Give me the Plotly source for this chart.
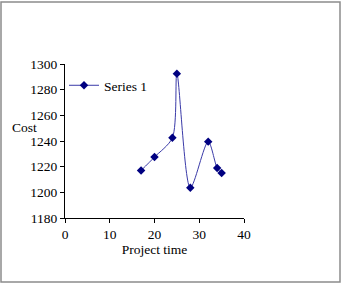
import plotly.graph_objects as go

project_time = [17, 20, 24, 25, 28, 32, 34, 35]
cost = [1217, 1227.5, 1242.5, 1292.5, 1203.5, 1239.5, 1219, 1215]
series_name = "Series 1"
x_ticks = [0, 10, 20, 30, 40]
y_ticks = [1180, 1200, 1220, 1240, 1260, 1280, 1300]

FONT = "Times New Roman, Liberation Serif, serif"
FS = 13.5

fig = go.Figure()
fig.add_trace(go.Scatter(
    x=project_time, y=cost, name=series_name,
    mode="lines+markers",
    line=dict(shape="spline", smoothing=0.8, color="#3a3aa8", width=1),
    marker=dict(symbol="diamond", size=6.5, color="#000080"),
))

W, H = 342, 284
l, r, t, b = 65, 98, 64, 66
pw, ph = W - l - r, H - t - b

def px_to_paper_x(px):
    return (px - l) / pw

def px_to_paper_y(py):
    return (H - b - py) / ph

fig.update_layout(
    width=W, height=H,
    margin=dict(l=l, r=r, t=t, b=b, pad=0),
    paper_bgcolor="white", plot_bgcolor="white",
    font=dict(family=FONT, size=FS, color="black"),
    showlegend=True,
    legend=dict(x=px_to_paper_x(64), y=px_to_paper_y(70), xanchor="left", yanchor="top",
                bgcolor="rgba(0,0,0,0)", font=dict(size=FS, family=FONT),
                itemwidth=30, tracegroupgap=0),
    xaxis=dict(range=[0, 40], tickvals=x_ticks, showgrid=False, zeroline=False,
               showline=True, linecolor="black", linewidth=1,
               ticks="outside", ticklen=4, tickcolor="black",
               tickfont=dict(family=FONT, size=FS),
               title=dict(text="Project time", standoff=0, font=dict(size=FS, family=FONT))),
    yaxis=dict(range=[1180, 1300], tickvals=y_ticks, showgrid=False, zeroline=False,
               showline=True, linecolor="black", linewidth=1,
               ticks="outside", ticklen=4, tickcolor="black",
               tickfont=dict(family=FONT, size=FS)),
    annotations=[dict(text="Cost", xref="paper", yref="paper",
                      x=px_to_paper_x(24), y=px_to_paper_y(127),
                      xanchor="center", yanchor="middle", showarrow=False,
                      font=dict(size=FS, family=FONT))],
    shapes=[dict(type="rect", xref="paper", yref="paper",
                 x0=px_to_paper_x(1), x1=px_to_paper_x(340),
                 y0=px_to_paper_y(282), y1=px_to_paper_y(2),
                 line=dict(color="#8c8c8c", width=1.5), fillcolor="rgba(0,0,0,0)", layer="below")],
)

fig.write_html("out.html")
